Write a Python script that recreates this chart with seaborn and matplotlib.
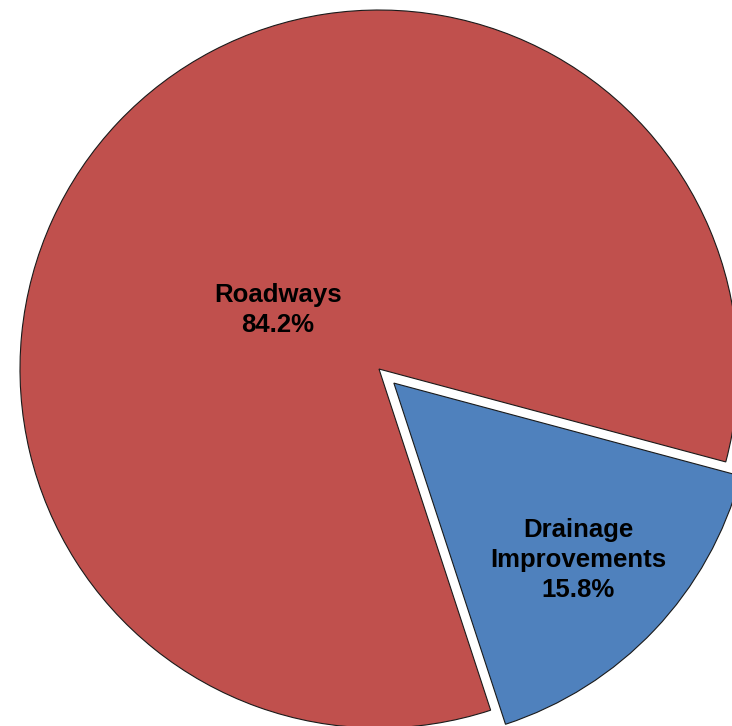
import matplotlib
matplotlib.use("Agg")
import matplotlib.pyplot as plt
import seaborn as sns

categories = ["Drainage\nImprovements", "Roadways"]
shares = [15.8, 84.2]
colors = ["#4F81BD", "#C0504D"]
explode = [0.057, 0.0]

sns.set_theme(style="white")
plt.rcParams['font.family'] = ['Liberation Sans', 'DejaVu Sans']

fig = plt.figure(figsize=(7.32, 7.26), dpi=100)
ax = fig.add_axes([0, 0, 1, 1])
wedges, _ = ax.pie(shares, colors=colors, explode=explode, startangle=-15.0,
                   counterclock=False, radius=1.0,
                   wedgeprops=dict(edgecolor="#1a1a1a", linewidth=0.8))

label_pos = [(0.554, -0.532), (-0.281, 0.164)]
for cat, val, (x, y) in zip(categories, shares, label_pos):
    ax.text(x, y, f"{cat}\n{val:.1f}%", ha="center", va="center",
            fontsize=18.5, fontweight="bold", color="black", linespacing=1.33)

ax.set_xlim(-1.0557, 0.9833)
ax.set_ylim(-0.9944, 1.0279)
ax.set_aspect("equal")
ax.axis("off")
fig.savefig("out.png", dpi=100)
